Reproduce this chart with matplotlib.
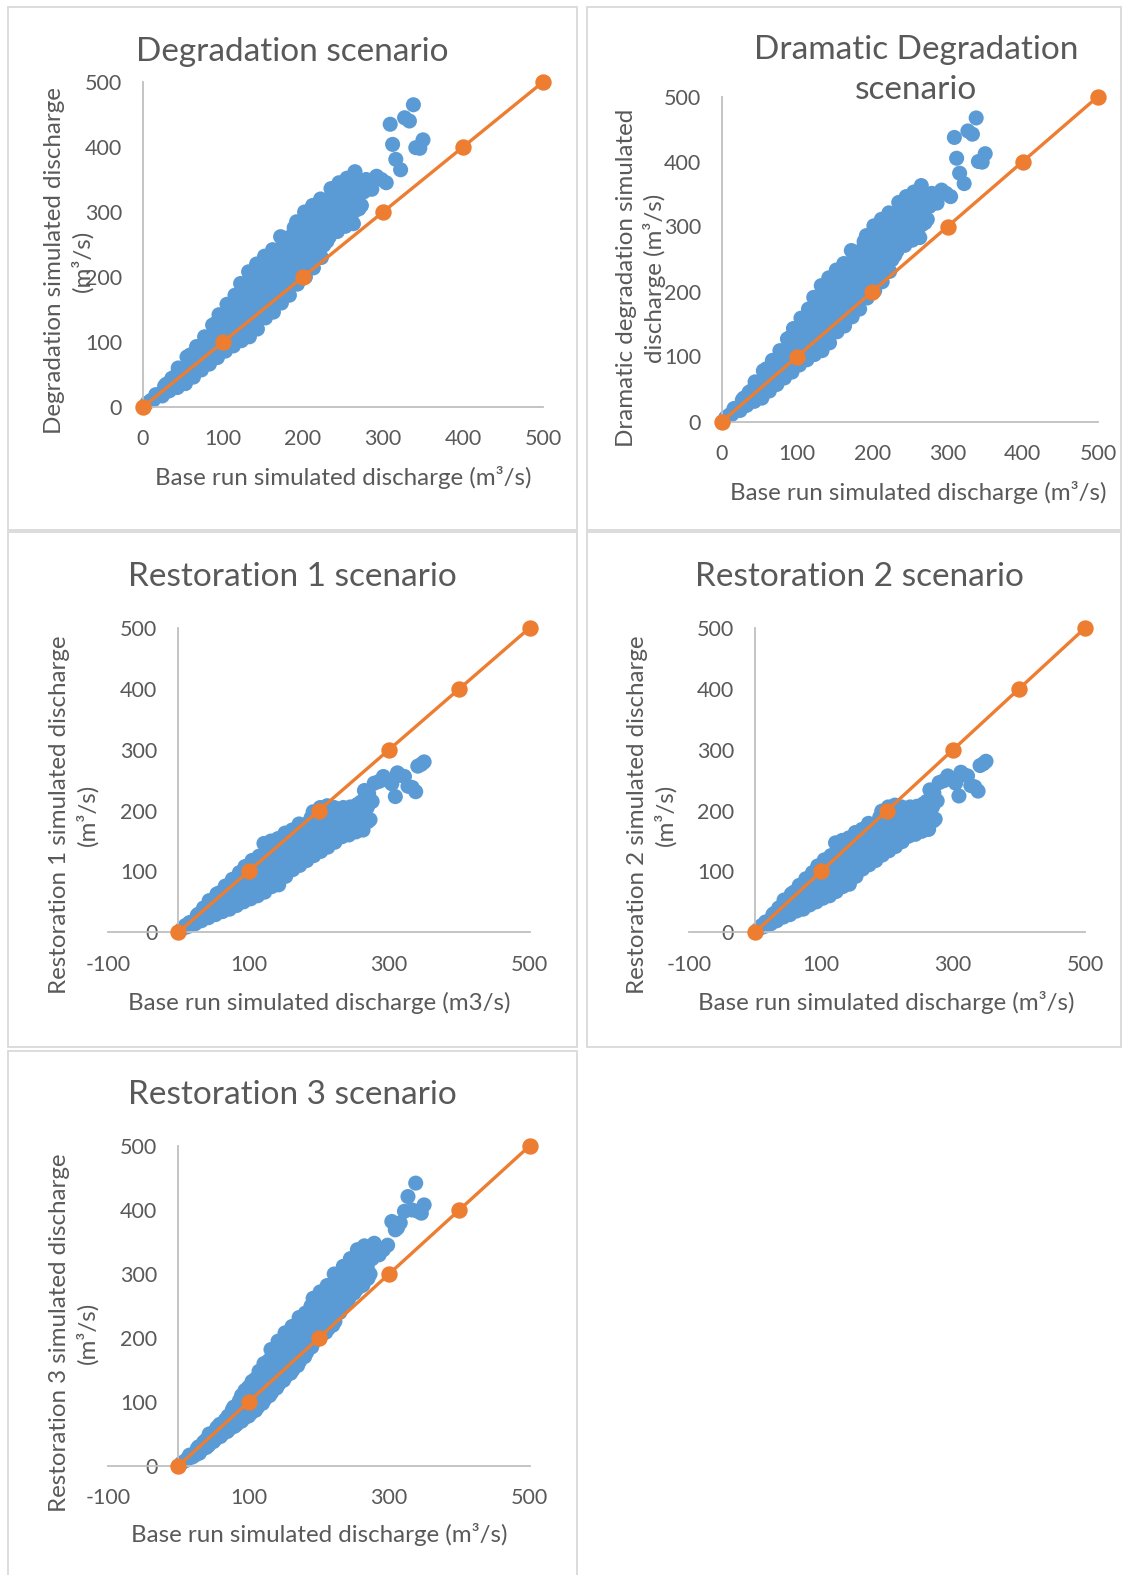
import matplotlib
matplotlib.use('Agg')
import matplotlib.pyplot as plt
from matplotlib.patches import Rectangle

# base run simulated discharge (m3/s), shared by all scenarios
base_q = [5,
          13, 16,
          24, 27,
          33, 36,
          43, 46, 44,
          53, 56, 55,
          63, 66, 64, 67,
          73, 76, 74, 77,
          83, 86, 84, 87,
          93, 96, 94, 97, 95,
          103, 106, 104, 107, 105,
          113, 116, 114, 117, 115,
          123, 126, 124, 127, 125, 122,
          133, 136, 134, 137, 135, 132,
          143, 146, 144, 147, 145, 142,
          153, 156, 154, 157, 155, 152,
          163, 166, 164, 167, 165, 162,
          173, 176, 174, 177, 175, 172,
          183, 186, 184, 187, 185, 181, 189,
          193, 196, 194, 197, 195, 192,
          203, 206, 204, 207, 205, 202,
          213, 216, 214, 217, 215, 212,
          223, 226, 224, 227, 225, 222,
          233, 236, 234, 237, 235,
          243, 246, 244, 247, 245,
          253, 256, 254, 257, 255,
          263, 266, 264, 267, 265,
          273, 276, 279,
          286, 292, 298, 304, 309, 312, 316, 322, 327, 333, 338, 341, 346, 350,
          10, 20, 30, 29, 40, 39, 50, 51, 60, 61, 59, 70, 69, 71, 80, 81, 79,
          90, 89, 91, 90, 100, 99, 101, 100, 110, 109, 111, 110, 120, 119, 121, 120,
          130, 129, 131, 130, 129, 140, 139, 141, 140, 139, 150, 149, 151, 150, 149,
          160, 159, 161, 160, 159, 170, 169, 171, 170, 169, 180, 179, 181, 180, 179,
          190, 189, 191, 190, 189, 200, 199, 201, 200, 199, 210, 209, 211, 210, 209,
          220, 219, 221, 220, 219, 230, 229, 231, 230, 240, 239, 241, 240,
          250, 249, 251, 250, 260, 259, 261, 260, 270, 269, 271]

deg_q = [6,
         11, 19,
         17, 32,
         25, 44,
         30, 46, 60,
         36, 56, 77,
         46, 63, 77, 93,
         57, 75, 90, 108,
         66, 87, 105, 126,
         76, 93, 107, 126, 142,
         86, 103, 123, 139, 158,
         94, 114, 132, 153, 172,
         102, 121, 137, 156, 171, 190,
         108, 129, 147, 169, 187, 208,
         120, 141, 159, 181, 199, 220,
         137, 155, 176, 193, 214, 232,
         146, 166, 183, 205, 222, 242,
         160, 181, 199, 222, 240, 262,
         172, 190, 206, 225, 240, 260, 276,
         189, 209, 226, 248, 265, 285,
         200, 221, 239, 261, 279, 300,
         214, 234, 251, 273, 290, 310,
         230, 249, 265, 285, 301, 320,
         262, 281, 298, 319, 336,
         270, 290, 307, 327, 345,
         278, 298, 314, 335, 352,
         282, 303, 321, 343, 362,
         310, 331, 350,
         335, 355, 350, 345, 435, 404, 381, 365, 445, 440, 465, 399, 398, 411,
         10, 19, 24, 35, 33, 46, 42, 59, 50, 66, 80, 60, 76, 92, 70, 88, 106,
         80, 97, 114, 128, 90, 107, 124, 141, 99, 117, 136, 155, 107, 127, 147, 168,
         114, 133, 152, 171, 190, 124, 144, 164, 184, 204, 138, 157, 177, 196, 216,
         150, 169, 189, 208, 228, 163, 182, 202, 222, 242, 176, 196, 217, 238, 259,
         190, 210, 230, 250, 270, 204, 223, 243, 262, 282, 217, 236, 256, 275, 295,
         231, 250, 268, 287, 306, 255, 275, 295, 318, 275, 293, 312, 331,
         283, 301, 320, 339, 290, 309, 328, 347, 305, 325, 345]

dram_q = [6,
          11, 20,
          17, 33,
          25, 45,
          31, 46, 61,
          36, 57, 78,
          47, 63, 78, 94,
          57, 75, 91, 109,
          67, 87, 106, 127,
          76, 93, 108, 126, 143,
          87, 104, 123, 140, 159,
          95, 114, 133, 153, 173,
          103, 121, 138, 156, 172, 191,
          109, 129, 148, 169, 188, 209,
          121, 141, 160, 181, 200, 221,
          138, 156, 176, 194, 214, 233,
          147, 166, 184, 205, 223, 243,
          161, 181, 200, 222, 241, 263,
          173, 190, 207, 225, 241, 260, 277,
          190, 209, 227, 248, 266, 286,
          201, 221, 240, 261, 280, 301,
          215, 234, 252, 273, 291, 311,
          231, 249, 266, 285, 302, 321,
          263, 281, 299, 319, 337,
          271, 290, 308, 327, 346,
          279, 298, 315, 335, 353,
          283, 303, 322, 343, 363,
          311, 331, 351,
          336, 356, 351, 346, 437, 405, 382, 366, 447, 442, 467, 400, 399, 412,
          10, 20, 24, 36, 33, 47, 42, 60, 51, 66, 81, 61, 77, 93, 71, 88, 107,
          81, 98, 115, 129, 91, 108, 124, 142, 100, 118, 137, 156, 108, 128, 148, 169,
          115, 134, 153, 172, 191, 125, 145, 165, 185, 205, 139, 158, 178, 197, 217,
          151, 170, 190, 209, 229, 164, 183, 203, 223, 243, 177, 197, 218, 239, 260,
          191, 211, 231, 251, 271, 205, 224, 244, 263, 283, 218, 237, 257, 276, 296,
          232, 251, 269, 288, 307, 256, 276, 296, 319, 276, 294, 313, 332,
          284, 302, 321, 340, 291, 310, 329, 348, 306, 326, 346]

rest1_q = [5,
           9, 16,
           14, 28,
           19, 40,
           24, 38, 52,
           29, 46, 63,
           34, 49, 61, 76,
           38, 55, 70, 87,
           44, 63, 79, 98,
           50, 66, 78, 95, 108,
           55, 72, 85, 103, 118,
           60, 77, 91, 109, 125,
           66, 83, 97, 115, 129, 146,
           75, 91, 104, 121, 134, 150,
           78, 94, 108, 125, 138, 154,
           92, 107, 119, 136, 148, 163,
           103, 117, 128, 143, 154, 168,
           110, 125, 136, 152, 163, 178,
           118, 131, 140, 154, 163, 177, 188,
           126, 141, 154, 170, 183, 198,
           133, 148, 160, 177, 189, 205,
           140, 155, 167, 182, 194, 208,
           148, 160, 170, 183, 193, 205,
           157, 170, 180, 194, 205,
           160, 173, 182, 196, 206,
           165, 177, 187, 200, 210,
           168, 185, 199, 217, 233,
           185, 215, 245,
           248, 256, 250, 244, 223, 262, 258, 256, 240, 238, 231, 273, 276, 280,
           11, 17, 20, 30, 26, 40, 33, 50, 37, 51, 65, 42, 58, 74, 48, 65, 83,
           54, 67, 81, 95, 59, 74, 89, 104, 64, 79, 94, 110, 70, 86, 103, 121,
           77, 91, 106, 120, 136, 83, 97, 111, 126, 140, 92, 106, 119, 133, 147,
           104, 117, 130, 143, 156, 113, 125, 138, 150, 163, 120, 133, 146, 159, 172,
           128, 141, 154, 167, 181, 136, 149, 162, 176, 190, 143, 156, 169, 182, 196,
           150, 162, 174, 186, 198, 158, 171, 184, 197, 164, 176, 188, 199,
           168, 179, 191, 202, 172, 186, 200, 214, 182, 205, 228]

rest2_q = [5,
           9, 17,
           14, 29,
           19, 40,
           25, 38, 53,
           29, 47, 63,
           35, 49, 62, 77,
           38, 55, 71, 88,
           45, 63, 80, 98,
           50, 66, 79, 95, 109,
           56, 72, 86, 103, 119,
           60, 77, 92, 109, 126,
           67, 83, 98, 115, 130, 147,
           75, 91, 105, 121, 135, 151,
           79, 94, 109, 125, 139, 155,
           92, 107, 120, 136, 149, 164,
           104, 117, 129, 143, 155, 169,
           111, 125, 137, 152, 164, 179,
           118, 131, 141, 154, 164, 177, 189,
           127, 141, 155, 170, 184, 199,
           134, 148, 161, 177, 190, 206,
           141, 155, 168, 182, 195, 209,
           149, 160, 171, 183, 194, 206,
           158, 170, 181, 194, 206,
           161, 173, 183, 196, 207,
           166, 177, 188, 200, 211,
           169, 185, 200, 217, 234,
           186, 216, 246,
           249, 257, 251, 245, 224, 263, 259, 257, 241, 239, 232, 274, 277, 281,
           11, 17, 20, 31, 26, 41, 33, 51, 38, 52, 66, 43, 59, 75, 49, 66, 84,
           55, 68, 82, 96, 60, 75, 90, 105, 65, 80, 95, 111, 71, 87, 104, 122,
           78, 92, 107, 121, 137, 84, 98, 112, 127, 141, 93, 107, 120, 134, 148,
           105, 118, 131, 144, 157, 114, 126, 139, 151, 164, 121, 134, 147, 160, 173,
           129, 142, 155, 168, 182, 137, 150, 163, 177, 191, 144, 157, 170, 183, 197,
           151, 163, 175, 187, 199, 159, 172, 185, 198, 165, 177, 189, 200,
           169, 180, 192, 203, 173, 187, 201, 215, 183, 206, 229]

rest3_q = [5,
           11, 17,
           17, 27,
           25, 37,
           32, 41, 50,
           42, 51, 60,
           50, 58, 66, 72,
           58, 69, 77, 88,
           65, 78, 89, 102,
           74, 86, 95, 108, 118,
           82, 95, 106, 121, 132,
           92, 107, 119, 135, 148,
           104, 116, 125, 139, 148, 160,
           115, 129, 141, 156, 168, 182,
           128, 142, 154, 169, 180, 195,
           140, 155, 166, 182, 193, 208,
           150, 165, 177, 191, 203, 218,
           164, 179, 190, 206, 217, 232,
           178, 191, 201, 215, 225, 239, 250,
           194, 209, 220, 236, 247, 262,
           204, 219, 230, 246, 257, 272,
           214, 229, 240, 256, 267, 282,
           226, 242, 255, 271, 284, 300,
           248, 265, 279, 297, 312,
           262, 279, 292, 310, 324,
           275, 292, 305, 323, 338,
           283, 299, 313, 330, 344,
           300, 324, 348,
           330, 338, 345, 382, 369, 372, 380, 398, 421, 400, 442, 398, 395, 408,
           8, 14, 20, 30, 29, 40, 38, 53, 46, 56, 65, 54, 66, 78, 62, 76, 92,
           70, 84, 98, 110, 78, 93, 108, 123, 87, 103, 120, 136, 98, 114, 131, 148,
           110, 123, 137, 151, 165, 122, 136, 150, 164, 180, 134, 148, 162, 177, 194,
           145, 159, 173, 188, 204, 157, 171, 185, 200, 216, 171, 185, 199, 214, 232,
           186, 200, 214, 229, 247, 199, 213, 227, 242, 258, 209, 223, 237, 252, 268,
           220, 235, 251, 266, 282, 240, 257, 275, 294, 257, 274, 291, 308,
           270, 286, 303, 320, 281, 297, 313, 330, 293, 312, 334]

# 1:1 reference line
line_x = [0, 100, 200, 300, 400, 500]
line_y = [0, 100, 200, 300, 400, 500]

titles = ["Degradation scenario", "Dramatic Degradation\nscenario",
          "Restoration 1 scenario", "Restoration 2 scenario",
          "Restoration 3 scenario"]
ylabels = ["Degradation simulated discharge\n(m\u00b3/s)",
           "Dramatic degradation simulated\ndischarge (m\u00b3/s)",
           "Restoration 1 simulated discharge\n(m\u00b3/s)",
           "Restoration 2 simulated discharge\n(m\u00b3/s)",
           "Restoration 3 simulated discharge\n(m\u00b3/s)"]
xlabels = ["Base run simulated discharge (m\u00b3/s)",
           "Base run simulated discharge (m\u00b3/s)",
           "Base run simulated discharge (m3/s)",
           "Base run simulated discharge (m\u00b3/s)",
           "Base run simulated discharge (m\u00b3/s)"]
series = [deg_q, dram_q, rest1_q, rest2_q, rest3_q]

W, H = 1124, 1575
BLUE = '#5B9BD5'
ORANGE = '#ED7D31'
GREY = '#595959'
AXC = '#BFBFBF'

plt.rcParams['font.family'] = ['Lato', 'DejaVu Sans']
plt.rcParams['axes.unicode_minus'] = False

fig = plt.figure(figsize=(W / 100, H / 100), dpi=100)


def fx(x):
    return x / W


def fy(y):
    return 1 - y / H


# panel frames (pixels: left, top, right, bottom)
frames = [(8, 7, 577, 530), (587, 7, 1121, 530),
          (8, 532.5, 577, 1046.5), (587, 532.5, 1121, 1046.5),
          (8, 1050.5, 577, 1590)]
for l, t, r, b in frames:
    fig.add_artist(Rectangle((fx(l), fy(b)), (r - l) / W, (b - t) / H,
                             transform=fig.transFigure, fill=False,
                             ec='#D9D9D9', lw=1.3))

# axes boxes (pixels: x at xmin, x at xmax, y at ymax, y at ymin)
boxes = [(143, 543, 82, 407), (722, 1098, 96.5, 421.5),
         (108, 529.5, 628, 932.3), (689, 1085, 628, 932.3),
         (108, 529.5, 1146, 1466)]
xlims = [(0, 500), (0, 500), (-100, 500), (-100, 500), (-100, 500)]
xticks = [[0, 100, 200, 300, 400, 500], [0, 100, 200, 300, 400, 500],
          [-100, 100, 300, 500], [-100, 100, 300, 500], [-100, 100, 300, 500]]

# text positions in pixels
title_pos = [(292, 52), (916, 70), (292, 577), (859, 577), (292, 1095)]
ylab_pos = [(69, 261), (641, 278), (74, 815), (652, 815), (74, 1333)]
xlab_pos = [(343, 477), (918, 492), (319, 1003), (886, 1003), (319, 1535)]

for i in range(5):
    x0, x1, yt, yb = boxes[i]
    ax = fig.add_axes([fx(x0), fy(yb), (x1 - x0) / W, (yb - yt) / H])
    ax.scatter(base_q, series[i], s=118, color=BLUE, edgecolors='none',
               zorder=2, clip_on=False)
    ax.plot(line_x, line_y, color=ORANGE, lw=2.4, marker='o', ms=10.8,
            zorder=3, clip_on=False)
    ax.set_xlim(*xlims[i])
    ax.set_ylim(0, 500)
    ax.set_xticks(xticks[i])
    ax.set_yticks([0, 100, 200, 300, 400, 500])
    for s in ['top', 'right']:
        ax.spines[s].set_visible(False)
    for s in ['left', 'bottom']:
        ax.spines[s].set_color(AXC)
        ax.spines[s].set_linewidth(1.3)
    ax.spines['left'].set_position(('data', 0))
    ax.tick_params(length=0, labelsize=15.5, labelcolor=GREY)
    ax.tick_params(axis='y', pad=15)
    ax.tick_params(axis='x', pad=16)
    ax.patch.set_alpha(0)

    tx, ty = title_pos[i]
    fig.text(fx(tx), fy(ty), titles[i], fontsize=24, color=GREY,
             ha='center', va='center', linespacing=1.4)
    lx, ly = ylab_pos[i]
    fig.text(fx(lx), fy(ly), ylabels[i], fontsize=17.4, color=GREY,
             rotation=90, ha='center', va='center', multialignment='center',
             linespacing=1.35)
    bx, by = xlab_pos[i]
    fig.text(fx(bx), fy(by), xlabels[i], fontsize=17.4, color=GREY,
             ha='center', va='center')

fig.savefig('out.png', dpi=100)
